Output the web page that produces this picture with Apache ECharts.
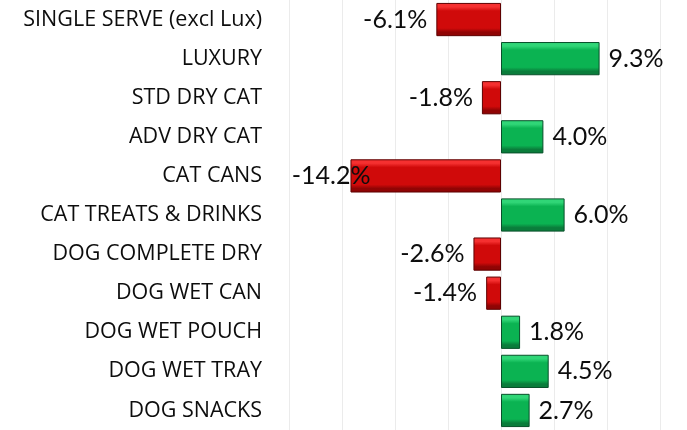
<!DOCTYPE html>
<html>
<head>
<meta charset="utf-8">
<style>
  html, body { margin: 0; padding: 0; background: #fff; }
  #chart { width: 687px; height: 430px; }
</style>
<script src="https://cdn.jsdelivr.net/npm/echarts@6/dist/echarts.min.js"></script>
</head>
<body>
<div id="chart"></div>
<script>
(function () {
  'use strict';

  const categories = [
    'SINGLE SERVE (excl Lux)', 'LUXURY', 'STD DRY CAT', 'ADV DRY CAT', 'CAT CANS',
    'CAT TREATS & DRINKS', 'DOG COMPLETE DRY', 'DOG WET CAN', 'DOG WET POUCH',
    'DOG WET TRAY', 'DOG SNACKS'
  ];
  const changes = [-6.1, 9.3, -1.8, 4.0, -14.2, 6.0, -2.6, -1.4, 1.8, 4.5, 2.7];

  function bevel(light, main, dark) {
    return new echarts.graphic.LinearGradient(0, 0, 0, 1, [
      { offset: 0, color: light },
      { offset: 0.12, color: light },
      { offset: 0.24, color: main },
      { offset: 0.76, color: main },
      { offset: 0.88, color: dark },
      { offset: 1, color: dark }
    ]);
  }
  const red = bevel('#f53030', '#d00a0a', '#900404');
  const green = bevel('#30d677', '#0bb352', '#0a7d3b');

  const barData = changes.map(function (v, i) {
    const neg = v < 0;
    const item = {
      value: v,
      itemStyle: {
        color: neg ? red : green,
        borderColor: neg ? '#5e0000' : '#08502a',
        borderWidth: 1
      },
      label: { position: neg ? 'left' : 'right' }
    };
    if (categories[i] === 'CAT CANS') item.label.offset = [29, 0];
    return item;
  });

  const chart = echarts.init(document.getElementById('chart'), null, { renderer: 'canvas' });
  chart.setOption({
    animation: false,
    grid: { left: 289, right: 27, top: 0, bottom: 0 },
    xAxis: {
      type: 'value',
      min: -20,
      max: 15,
      interval: 5,
      axisLabel: { show: false },
      axisLine: { show: false },
      axisTick: { show: false },
      splitLine: { lineStyle: { color: '#ebebeb', width: 1 } }
    },
    yAxis: {
      type: 'category',
      data: categories,
      inverse: true,
      axisLine: { show: false },
      axisTick: { show: false },
      axisLabel: {
        margin: 27,
        fontFamily: 'Open Sans',
        fontSize: 21.5,
        color: '#0d0d0d'
      }
    },
    series: [{
      type: 'bar',
      data: barData,
      barCategoryGap: '15%',
      label: {
        show: true,
        distance: 9,
        fontFamily: 'Lato',
        fontSize: 25,
        color: '#0d0d0d',
        formatter: function (p) { return p.value.toFixed(1) + '%'; }
      }
    }]
  });
})();
</script>
</body>
</html>
